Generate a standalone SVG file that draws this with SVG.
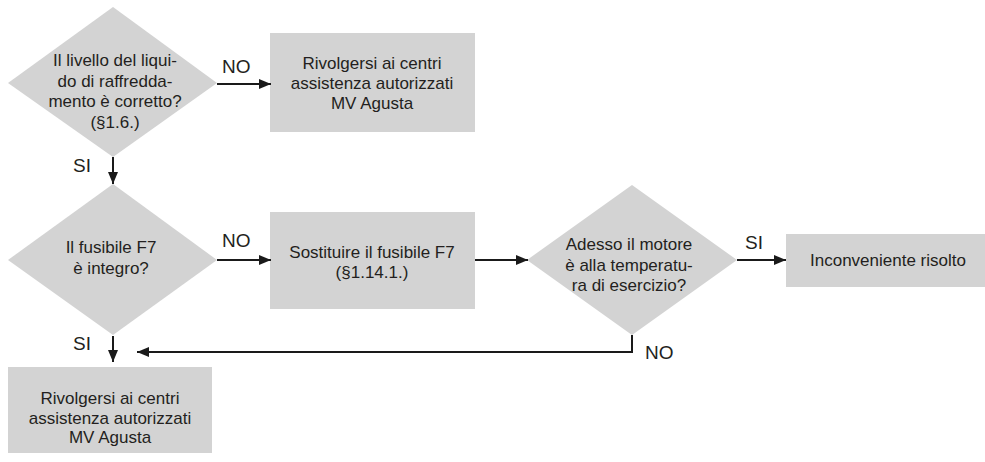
<svg xmlns="http://www.w3.org/2000/svg" width="985" height="462" viewBox="0 0 985 462">
<defs>
<style>
.shape{fill:#d3d3d3;stroke:none}
.t{font-family:"Liberation Sans",Arial,sans-serif;font-size:17px;fill:#231f20;text-anchor:middle}
.lbl{font-family:"Liberation Sans",Arial,sans-serif;font-size:19px;fill:#231f20}
.c{fill:none;stroke:#1a1a1a;stroke-width:2}
</style>
<marker id="ah" markerUnits="userSpaceOnUse" markerWidth="12" markerHeight="12" viewBox="0 0 12 12" refX="12" refY="6" orient="auto">
<path d="M0,1 L12,6 L0,11 Z" fill="#1a1a1a"/>
</marker>
</defs>
<rect width="985" height="462" fill="#ffffff"/>

<g id="d1">
<polygon class="shape" points="113,7 217,83 113,157 8,83"/>
<text class="t" x="115" y="66">Il livello del liqui-</text>
<text class="t" x="115" y="87">do di raffredda-</text>
<text class="t" x="115" y="107">mento è corretto?</text>
<text class="t" x="115" y="128">(§1.6.)</text>
</g>

<g id="r1">
<rect class="shape" x="270" y="33" width="205" height="99"/>
<text class="t" x="372" y="69">Rivolgersi ai centri</text>
<text class="t" x="372" y="89">assistenza autorizzati</text>
<text class="t" x="372" y="109">MV Agusta</text>
</g>

<g id="d2">
<polygon class="shape" points="113,184 217,260 113,335 8,260"/>
<text class="t" x="111" y="253">Il fusibile F7</text>
<text class="t" x="111" y="274">è integro?</text>
</g>

<g id="r2">
<rect class="shape" x="270" y="212" width="205" height="97"/>
<text class="t" x="372" y="258">Sostituire il fusibile F7</text>
<text class="t" x="372" y="278">(§1.14.1.)</text>
</g>

<g id="d3">
<polygon class="shape" points="632,185 737,260 632,335 527,260"/>
<text class="t" x="629" y="250">Adesso il motore</text>
<text class="t" x="629" y="271">è alla temperatu-</text>
<text class="t" x="629" y="291">ra di esercizio?</text>
</g>

<g id="r3">
<rect class="shape" x="786" y="234" width="199" height="53"/>
<text class="t" x="888" y="266">Inconveniente risolto</text>
</g>

<g id="r4">
<rect class="shape" x="8" y="367" width="204" height="86"/>
<text class="t" x="110" y="404">Rivolgersi ai centri</text>
<text class="t" x="110" y="424">assistenza autorizzati</text>
<text class="t" x="110" y="443">MV Agusta</text>
</g>

<g id="connectors">
<line class="c" x1="217" y1="84" x2="271" y2="84" marker-end="url(#ah)"/>
<line class="c" x1="113" y1="157" x2="113" y2="184" marker-end="url(#ah)"/>
<line class="c" x1="217" y1="260" x2="271" y2="260" marker-end="url(#ah)"/>
<line class="c" x1="475" y1="260" x2="528" y2="260" marker-end="url(#ah)"/>
<line class="c" x1="737" y1="260" x2="786" y2="260" marker-end="url(#ah)"/>
<polyline class="c" points="632,335 632,352 137,352" marker-end="url(#ah)"/>
<line class="c" x1="113" y1="336" x2="113" y2="362" marker-end="url(#ah)"/>
<text class="lbl" x="222" y="73">NO</text>
<text class="lbl" x="73" y="172">SI</text>
<text class="lbl" x="222" y="247">NO</text>
<text class="lbl" x="745" y="249">SI</text>
<text class="lbl" x="645" y="359">NO</text>
<text class="lbl" x="73" y="350">SI</text>
</g>
</svg>
